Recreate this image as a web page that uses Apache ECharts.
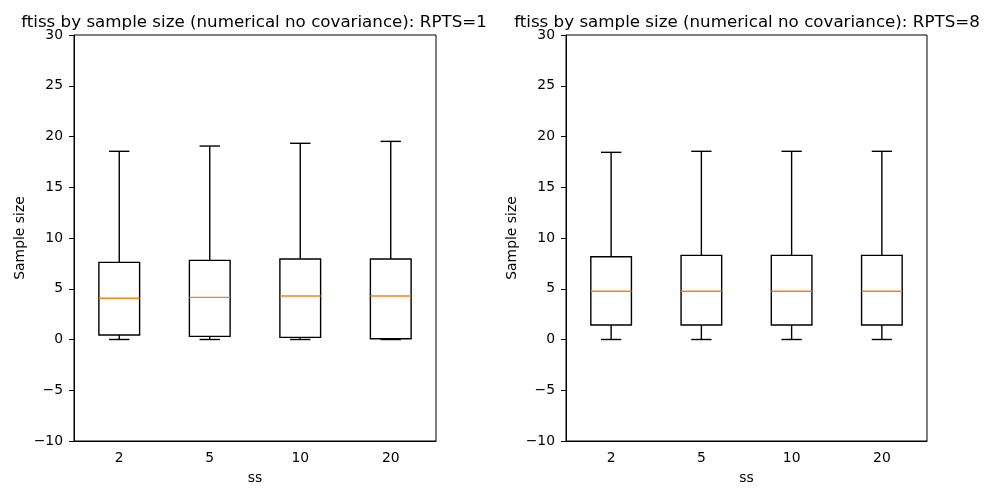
<!DOCTYPE html>
<html>
<head>
<meta charset="utf-8">
<script src="https://cdn.jsdelivr.net/npm/echarts@6/dist/echarts.min.js"></script>
<style>
    html, body { margin: 0; padding: 0; background: #fff; }
    #chart { width: 1000px; height: 500px; }
</style>
</head>
<body>
<div id="chart"></div>
<script>
// sample sizes on the x axis
const categories = ['2', '5', '10', '20'];
const yTicks = [-10, 30, 5]; // min, max, interval

// RPTS=1 box stats
const r1Low = [0, 0, 0, 0];
const r1Q1 = [0.44, 0.31, 0.21, 0.08];
const r1Median = [4.06, 4.15, 4.29, 4.29];
const r1Q3 = [7.6, 7.8, 7.93, 7.93];
const r1High = [18.54, 19.06, 19.33, 19.52];

// RPTS=8 box stats
const r8Low = [0, 0, 0, 0];
const r8Q1 = [1.43, 1.43, 1.43, 1.43];
const r8Median = [4.75, 4.75, 4.75, 4.75];
const r8Q3 = [8.16, 8.29, 8.29, 8.29];
const r8High = [18.44, 18.54, 18.54, 18.54];

const FONT = 'DejaVu Sans';
const LW = 1.4;

function boxRows(low, q1, med, q3, high) {
    return categories.map((c, i) => [i, low[i], q1[i], med[i], q3[i], high[i]]);
}

// matplotlib-like box: black box, half-width caps, orange median
function renderBox(params, api) {
    const i = api.value(0);
    const band = api.size([1, 0])[0];
    const bw = band * 0.45;
    const cw = bw / 2;
    const pLow = api.coord([i, api.value(1)]);
    const pQ1 = api.coord([i, api.value(2)]);
    const pMed = api.coord([i, api.value(3)]);
    const pQ3 = api.coord([i, api.value(4)]);
    const pHigh = api.coord([i, api.value(5)]);
    const x = pMed[0];
    const black = {stroke: '#000', lineWidth: LW, fill: null};
    return {
        type: 'group',
        children: [
            {type: 'line', shape: {x1: x, y1: pQ1[1], x2: x, y2: pLow[1]}, style: black},
            {type: 'line', shape: {x1: x, y1: pQ3[1], x2: x, y2: pHigh[1]}, style: black},
            {type: 'line', shape: {x1: x - cw / 2, y1: pLow[1], x2: x + cw / 2, y2: pLow[1]}, style: black},
            {type: 'line', shape: {x1: x - cw / 2, y1: pHigh[1], x2: x + cw / 2, y2: pHigh[1]}, style: black},
            {type: 'rect', shape: {x: x - bw / 2, y: pQ3[1], width: bw, height: pQ1[1] - pQ3[1]}, style: black},
            {type: 'line', shape: {x1: x - bw / 2, y1: pMed[1], x2: x + bw / 2, y2: pMed[1]}, style: {stroke: '#ff7f0e', lineWidth: LW}}
        ]
    };
}

function xAxis(idx) {
    return {
        type: 'category',
        gridIndex: idx,
        data: categories,
        boundaryGap: true,
        name: 'ss',
        nameLocation: 'middle',
        nameGap: 30,
        nameTextStyle: {color: '#000', fontFamily: FONT, fontSize: 13.9},
        axisLine: {onZero: false, lineStyle: {color: '#000', width: 1}},
        axisTick: {alignWithLabel: true, length: 5, lineStyle: {color: '#000'}},
        axisLabel: {color: '#000', fontFamily: FONT, fontSize: 13.9, margin: 10},
        splitLine: {show: false}
    };
}

function yAxis(idx) {
    return {
        type: 'value',
        gridIndex: idx,
        min: yTicks[0],
        max: yTicks[1],
        interval: yTicks[2],
        name: 'Sample size',
        nameLocation: 'middle',
        nameRotate: 90,
        nameGap: 47,
        nameTextStyle: {color: '#000', fontFamily: FONT, fontSize: 13.9},
        axisLine: {show: true, lineStyle: {color: '#000', width: 1}},
        axisTick: {show: true, length: 5, lineStyle: {color: '#000'}},
        axisLabel: {
            color: '#000', fontFamily: FONT, fontSize: 13.9, margin: 11,
            formatter: v => String(v).replace('-', '\u2212')
        },
        splitLine: {show: false}
    };
}

const chart = echarts.init(document.getElementById('chart'), null, {renderer: 'canvas'});

chart.setOption({
    animation: false,
    backgroundColor: '#fff',
    title: [
        {text: 'ftiss by sample size (numerical no covariance): RPTS=1', left: 249, top: 9, textAlign: 'center',
            textStyle: {fontFamily: FONT, fontSize: 16.7, fontWeight: 'normal', color: '#000'}},
        {text: 'ftiss by sample size (numerical no covariance): RPTS=8', left: 742, top: 9, textAlign: 'center',
            textStyle: {fontFamily: FONT, fontSize: 16.7, fontWeight: 'normal', color: '#000'}}
    ],
    grid: [
        {left: 74, top: 35, width: 362, height: 406, show: true, borderColor: '#000', borderWidth: 1, backgroundColor: 'transparent'},
        {left: 566, top: 35, width: 361, height: 406, show: true, borderColor: '#000', borderWidth: 1, backgroundColor: 'transparent'}
    ],
    xAxis: [xAxis(0), xAxis(1)],
    yAxis: [yAxis(0), yAxis(1)],
    series: [
        {
            type: 'custom',
            xAxisIndex: 0,
            yAxisIndex: 0,
            renderItem: renderBox,
            encode: {x: 0, y: [1, 2, 3, 4, 5]},
            data: boxRows(r1Low, r1Q1, r1Median, r1Q3, r1High)
        },
        {
            type: 'custom',
            xAxisIndex: 1,
            yAxisIndex: 1,
            renderItem: renderBox,
            encode: {x: 0, y: [1, 2, 3, 4, 5]},
            data: boxRows(r8Low, r8Q1, r8Median, r8Q3, r8High)
        }
    ]
});
</script>
</body>
</html>
